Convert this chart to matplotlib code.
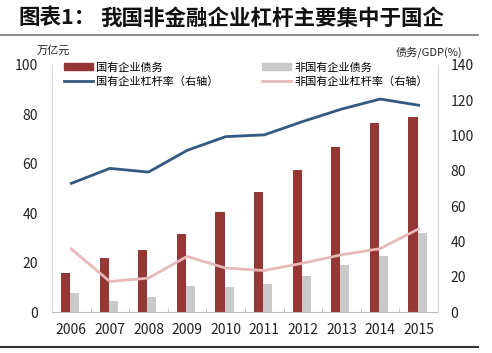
import matplotlib
matplotlib.use("Agg")
import matplotlib.pyplot as plt
import numpy as np
from matplotlib.patches import Patch
from matplotlib.lines import Line2D

plt.rcParams['font.family'] = ['Noto Sans CJK SC', 'DejaVu Sans']

years = ['2006', '2007', '2008', '2009', '2010', '2011', '2012', '2013', '2014', '2015']
soe_debt = [15.7, 21.8, 24.9, 31.6, 40.4, 48.5, 57.6, 67.0, 76.5, 78.9]
nonsoe_debt = [7.6, 4.5, 6.2, 10.7, 10.0, 11.2, 14.6, 19.1, 22.8, 31.9]
soe_lev = [72.9, 81.4, 79.3, 91.6, 99.4, 100.4, 108.0, 115.0, 120.7, 117.2]
nonsoe_lev = [35.7, 17.3, 19.2, 31.5, 24.9, 23.5, 27.7, 32.4, 35.9, 47.1]

c_red = '#953735'
c_gray = '#C9C9C9'
c_blue = '#325A80'
c_pink = '#E6B9B8'

fig = plt.figure(figsize=(4.92, 3.53), dpi=100)
ax = fig.add_axes([52/492, 1-312/353, (438-52)/492, (312-65)/353])
x = np.arange(len(years))
w = 0.235
ax.bar(x - w/2 - 0.03, soe_debt, width=w, color=c_red, zorder=2)
ax.bar(x + w/2 - 0.03, nonsoe_debt, width=w, color=c_gray, zorder=2)
ax.set_ylim(0, 100)
ax.set_xlim(-0.5, len(years) - 0.5)
ax.set_yticks(range(0, 101, 20))
ax.set_xticks(x)
ax.set_xticklabels(years)
ax.set_xticks(np.arange(-0.5, len(years)), minor=True)
ax.tick_params(axis='x', which='major', length=0, pad=8, labelsize=10, labelcolor='#222222')
ax.tick_params(axis='x', which='minor', length=3, direction='in', color='#BBBBBB')
ax.tick_params(axis='y', length=0, pad=10, labelsize=10, labelcolor='#222222')
for s in ['top', 'right']:
    ax.spines[s].set_visible(False)
ax.spines['left'].set_color('#D8D8D8')
ax.spines['bottom'].set_color('#BBBBBB')

ax2 = ax.twinx()
ax2.plot(x, soe_lev, color=c_blue, lw=2, zorder=3)
ax2.plot(x, nonsoe_lev, color=c_pink, lw=2, zorder=3)
ax2.set_ylim(0, 140)
ax2.set_yticks(range(0, 141, 20))
ax2.tick_params(axis='y', length=0, pad=9, labelsize=10, labelcolor='#222222')
for s in ['top', 'left', 'bottom']:
    ax2.spines[s].set_visible(False)
ax2.spines['right'].set_color('#D8D8D8')

# legends
h1 = [Patch(color=c_red), Line2D([], [], color=c_blue, lw=2)]
l1 = ['国有企业债务', '国有企业杠杆率（右轴）']
h2 = [Patch(color=c_gray), Line2D([], [], color=c_pink, lw=2)]
l2 = ['非国有企业债务', '非国有企业杠杆率（右轴）']
leg1 = fig.legend(h1, l1, loc='upper left', bbox_to_anchor=(64/492, 1-62/353), frameon=False,
                  fontsize=8, handlelength=2.6, handleheight=0.6, labelspacing=0.35,
                  handletextpad=0.3, borderaxespad=0, borderpad=0)
leg2 = fig.legend(h2, l2, loc='upper left', bbox_to_anchor=(262/492, 1-62/353), frameon=False,
                  fontsize=8, handlelength=2.6, handleheight=0.6, labelspacing=0.35,
                  handletextpad=0.3, borderaxespad=0, borderpad=0)

fig.text(37/492, 1-51/353, '万亿元', fontsize=8, ha='left', va='center', color='#222222')
fig.text(462/492, 1-52/353, '债务/GDP(%)', fontsize=8, ha='right', va='center', color='#222222')

fig.text(18/492, 1-18/353, '图表1：', fontsize=15.5,
         fontweight='bold', ha='left', va='center', color='#111111')
fig.text(100/492, 1-18/353, '我国非金融企业杠杆主要集中于国企', fontsize=15.5,
         fontweight='bold', ha='left', va='center', color='#111111')
fig.add_artist(Line2D([0.0, 478/492], [1-35/353, 1-35/353], color='#777777', lw=1.2))
fig.add_artist(Line2D([0.0, 478/492], [1-347/353, 1-347/353], color='#333333', lw=1.5))

fig.savefig('out.png', dpi=100)
